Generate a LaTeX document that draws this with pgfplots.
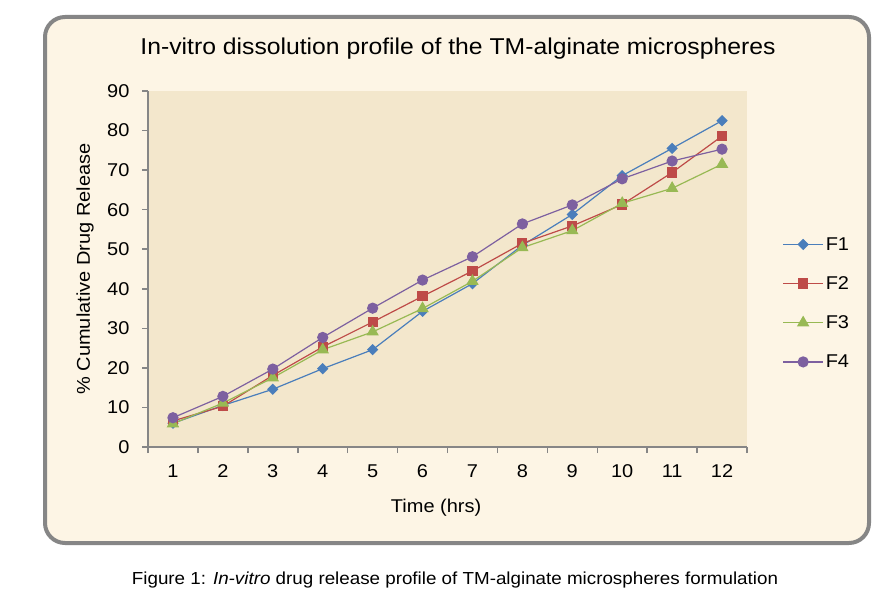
\documentclass[border=0pt]{standalone}
\usepackage{pgfplots}
\pgfplotsset{compat=1.18}
\usepackage{fontspec}
\setmainfont[FakeStretch=1.08]{Liberation Sans}
\definecolor{cF1}{HTML}{4A7EBB}
\definecolor{cF2}{HTML}{BE4B48}
\definecolor{cF3}{HTML}{98B954}
\definecolor{cF4}{HTML}{7D60A0}
\definecolor{frameFill}{HTML}{FDF5E5}
\definecolor{plotFill}{HTML}{F3E7CC}
\definecolor{axgray}{HTML}{868686}
\pgfplotstableread{
x F1 F2 F3 F4
1 6.0 6.6 5.9 7.4
2 10.5 10.3 11.1 12.8
3 14.6 18.1 17.5 19.7
4 19.8 25.3 24.6 27.7
5 24.6 31.6 29.1 35.1
6 34.3 38.1 35.0 42.2
7 41.3 44.5 41.9 48.1
8 51.0 51.5 50.4 56.4
9 58.8 55.9 54.7 61.2
10 68.6 61.3 61.6 67.8
11 75.5 69.4 65.4 72.3
12 82.5 78.6 71.5 75.3
}\data
\begin{document}
\begin{tikzpicture}[x=1pt,y=1pt]
\fill[white] (0,0) rectangle (880,-599);
\draw[axgray, line width=4pt, fill=frameFill, rounded corners=20pt] (45,-17) rectangle (869,-543);
\node[font=\fontsize{22.9}{26}\selectfont] at (458,-49) {In-vitro dissolution profile of the TM-alginate microspheres};
\node[font=\fontsize{17.4}{20}\selectfont] at (455,-580) {Figure 1: \textit{In-vitro} drug release profile of TM-alginate microspheres formulation};
\begin{axis}[
  at={(148pt,-447pt)}, anchor=south west,
  width=599pt, height=356pt, scale only axis,
  xmin=0.5, xmax=12.5, ymin=0, ymax=90,
  axis background/.style={fill=plotFill},
  axis x line*=bottom, axis y line*=left,
  axis line style={axgray, line width=1.5pt},
  xtick={0.5,1.5,...,12.5}, xticklabels={},
  extra x ticks={1,...,12}, extra x tick style={major tick length=0pt, xticklabels={1,2,3,4,5,6,7,8,9,10,11,12}},
  ytick={0,10,...,90},
  tick style={axgray, line width=1.5pt},
  major tick length=6pt,
  tick align=outside,
  tick label style={font=\fontsize{18.5}{21}\selectfont},
  /pgf/number format/assume math mode=true,
  xticklabel style={yshift=-14pt},
  yticklabel style={xshift=-9pt},
  xlabel={Time (hrs)}, ylabel={\% Cumulative Drug Release},
  label style={font=\fontsize{18.5}{21}\selectfont},
  xlabel style={at={(axis description cs:0.481,-0.17)}, anchor=center},
  ylabel style={at={(axis description cs:-0.105,0.5)}, anchor=center},
  legend style={draw=none, fill=none, at={(1.059,0.404)}, anchor=west, inner sep=0pt,
    row sep=20.8pt, font=\fontsize{18.5}{21}\selectfont, cells={anchor=west}},
  legend image code/.code={\draw[mark repeat=2,mark phase=2,#1] plot coordinates {(0pt,0pt) (20pt,0pt) (40pt,0pt)};},
  every axis plot/.append style={line width=1.2pt},
  clip=false,
]
\addplot[cF1, mark=square*, mark size=3.4pt, mark options={rotate=45}] table[x=x,y=F1] {\data};
\addplot[cF2, mark=square*, mark size=4.5pt] table[x=x,y=F2] {\data};
\addplot[cF3, mark=triangle*, mark size=6pt] table[x=x,y=F3] {\data};
\addplot[cF4, mark=*, mark size=5pt] table[x=x,y=F4] {\data};
\legend{F1,F2,F3,F4}
\end{axis}
\end{tikzpicture}
\end{document}
